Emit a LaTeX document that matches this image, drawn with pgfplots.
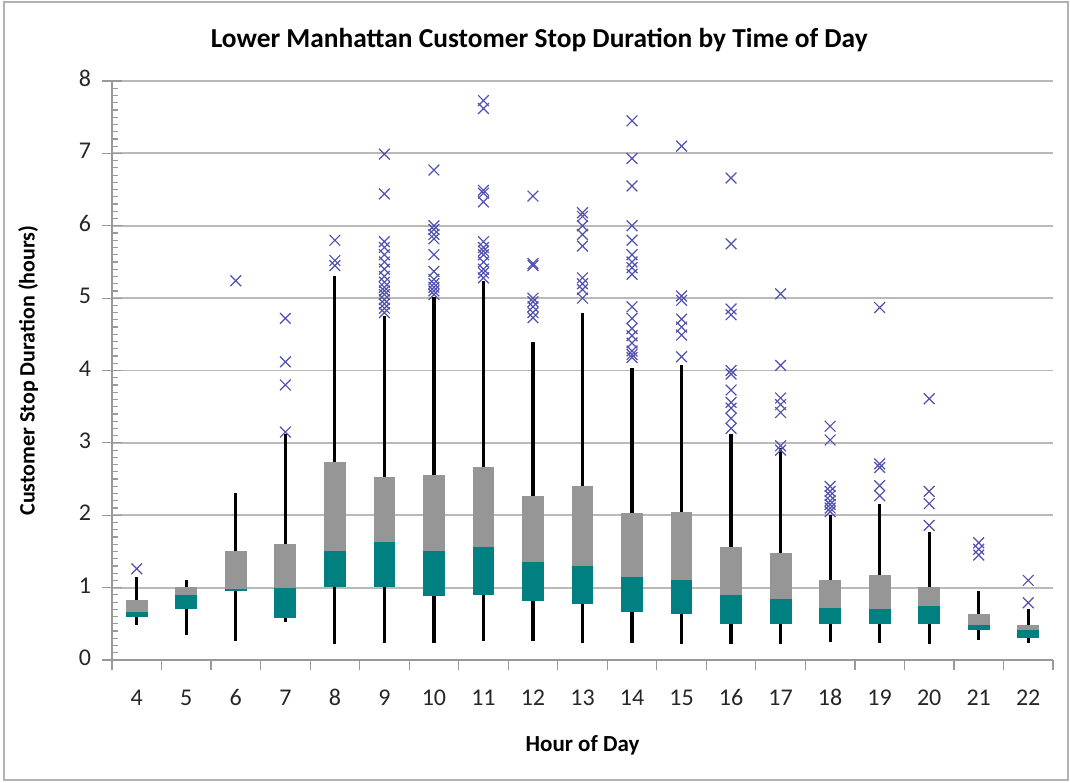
\documentclass[border=0pt]{standalone}
\usepackage{fontspec}
\setmainfont{Carlito}
\usepackage{pgfplots}
\pgfplotsset{compat=1.18}
\usepgfplotslibrary{statistics}

\definecolor{boxgray}{RGB}{150,150,150}
\definecolor{boxteal}{RGB}{0,128,128}
\definecolor{outblue}{RGB}{80,80,175}
\definecolor{gridgray}{RGB}{185,185,185}

% one box: position, lower whisker, Q1, median, Q3, upper whisker
\newcommand\bx[6]{%
  \addplot[black, boxplot prepared={draw direction=y, draw position=#1,
      lower whisker=#2, lower quartile=#3, median=#4,
      upper quartile=#5, upper whisker=#6}] coordinates {};
  \addplot[black, boxplot prepared={draw direction=y, draw position=#1,
      lower whisker=#3, lower quartile=#3, median=#4,
      upper quartile=#4, upper whisker=#4},
    boxplot/every box/.style={draw=none, fill=boxteal},
    boxplot/every whisker/.style={draw=none}] coordinates {};
}

\begin{document}
\begin{tikzpicture}
\useasboundingbox (-56pt,-61pt) rectangle (479pt,330pt);
\draw[gray!60, line width=1pt] (-54pt,-60pt) rectangle (478pt,329pt);
\begin{axis}[
   at={(0,0)}, anchor=south west,
   scale only axis,
   width=470.5pt, height=289.5pt,
   xmin=3.5, xmax=22.5,
   ymin=0, ymax=8,
   axis x line*=bottom,
   axis y line*=left,
   axis line style={-, draw=gray!80, line width=0.8pt},
   xtick={3.5,4.5,...,21.5},
   xticklabels={4,5,6,7,8,9,10,11,12,13,14,15,16,17,18,19,20,21,22},
   extra x ticks={22.5},
   extra x tick labels={},
   xticklabel style={xshift=12.38pt, yshift=-4.5pt},
   typeset ticklabels with strut,
   x tick style={draw=gray!80, line width=0.6pt},
   xtick align=outside,
   ytick={0,1,...,8},
   minor y tick num=9,
   ytick align=inside,
   extra y ticks={0,1,...,8},
   extra y tick labels={},
   extra y tick style={ytick align=outside, grid=none},
   ymajorgrids,
   major grid style={draw=gridgray, line width=0.9pt},
   y tick style={draw=gray!80, line width=0.6pt},
   major tick length=5pt,
   minor tick length=3pt,
   yticklabel style={xshift=-7pt},
   tick label style={font=\fontsize{12}{14}\selectfont, text=black!85},
   /pgf/number format/assume math mode=true,
   xlabel={Hour of Day},
   xlabel style={font=\bfseries\fontsize{11.5}{13}\selectfont, at={(axis description cs:0.5,-0.147)}, anchor=center},
   ylabel={Customer Stop Duration (hours)},
   ylabel style={font=\bfseries\fontsize{11}{13}\selectfont, at={(axis description cs:-0.089,0.5)}, anchor=center},
   boxplot/box extend=0.44,
   boxplot/whisker extend=0,
   boxplot/every box/.style={draw=none, fill=boxgray},
   boxplot/every median/.style={draw=none},
   boxplot/every whisker/.style={draw=black, line width=1.6pt},
   clip=false,
 ]
\node[font=\bfseries\fontsize{13.7}{16}\selectfont] at (axis description cs:0.454,1.071)
  {Lower Manhattan Customer Stop Duration by Time of Day};
\bx{4}{0.48}{0.60}{0.67}{0.83}{1.15}
\bx{5}{0.35}{0.71}{0.90}{1.01}{1.10}
\bx{6}{0.26}{0.95}{0.98}{1.51}{2.31}
\bx{7}{0.52}{0.58}{1.00}{1.60}{3.12}
\bx{8}{0.22}{1.01}{1.51}{2.74}{5.30}
\bx{9}{0.24}{1.01}{1.63}{2.53}{4.76}
\bx{10}{0.24}{0.89}{1.51}{2.55}{5.01}
\bx{11}{0.26}{0.90}{1.56}{2.67}{5.24}
\bx{12}{0.26}{0.82}{1.36}{2.27}{4.40}
\bx{13}{0.24}{0.78}{1.30}{2.41}{4.79}
\bx{14}{0.24}{0.66}{1.15}{2.03}{4.03}
\bx{15}{0.22}{0.64}{1.10}{2.04}{4.08}
\bx{16}{0.22}{0.50}{0.90}{1.56}{3.12}
\bx{17}{0.22}{0.50}{0.84}{1.48}{2.93}
\bx{18}{0.25}{0.50}{0.72}{1.11}{2.00}
\bx{19}{0.24}{0.50}{0.70}{1.18}{2.15}
\bx{20}{0.22}{0.50}{0.74}{1.01}{1.77}
\bx{21}{0.28}{0.41}{0.49}{0.64}{0.96}
\bx{22}{0.23}{0.30}{0.41}{0.49}{0.71}
% outliers
\addplot[only marks, mark=x, mark size=3.8pt, draw=outblue, line width=0.6pt] coordinates {
 (4,1.26)
 (6,5.24)
 (7,4.72) (7,4.12) (7,3.80) (7,3.15)
 (8,5.80) (8,5.52) (8,5.45)
 (9,6.99) (9,6.44) (9,5.78) (9,5.70) (9,5.60) (9,5.50) (9,5.40) (9,5.30) (9,5.22)
 (9,5.15) (9,5.10) (9,5.05) (9,4.98) (9,4.92) (9,4.86) (9,4.80)
 (10,6.77) (10,6.00) (10,5.95) (10,5.88) (10,5.82) (10,5.60) (10,5.37) (10,5.26)
 (10,5.20) (10,5.15) (10,5.10) (10,5.05)
 (11,7.73) (11,7.62) (11,6.49) (11,6.45) (11,6.33) (11,5.78) (11,5.70) (11,5.65)
 (11,5.60) (11,5.50) (11,5.40) (11,5.35) (11,5.28)
 (12,6.41) (12,5.48) (12,5.45) (12,5.00) (12,4.95) (12,4.88) (12,4.80) (12,4.73)
 (13,6.18) (13,6.13) (13,6.00) (13,5.88) (13,5.72) (13,5.28) (13,5.20) (13,5.12) (13,5.00)
 (14,7.45) (14,6.93) (14,6.55) (14,6.00) (14,5.80) (14,5.60) (14,5.50) (14,5.42)
 (14,5.33) (14,4.88) (14,4.72) (14,4.58) (14,4.48) (14,4.38) (14,4.27) (14,4.22) (14,4.18)
 (15,7.10) (15,5.03) (15,4.97) (15,4.71) (15,4.60) (15,4.49) (15,4.19)
 (16,6.66) (16,5.75) (16,4.85) (16,4.77) (16,4.00) (16,3.95) (16,3.73) (16,3.56)
 (16,3.48) (16,3.34) (16,3.20)
 (17,5.06) (17,4.07) (17,3.62) (17,3.53) (17,3.42) (17,2.96) (17,2.90)
 (18,3.23) (18,3.04) (18,2.40) (18,2.33) (18,2.27) (18,2.20) (18,2.15) (18,2.10) (18,2.05)
 (19,4.87) (19,2.71) (19,2.66) (19,2.41) (19,2.27)
 (20,3.61) (20,2.33) (20,2.16) (20,1.86)
 (21,1.62) (21,1.53) (21,1.45)
 (22,1.10) (22,0.79)
};
\end{axis}
\end{tikzpicture}
\end{document}
